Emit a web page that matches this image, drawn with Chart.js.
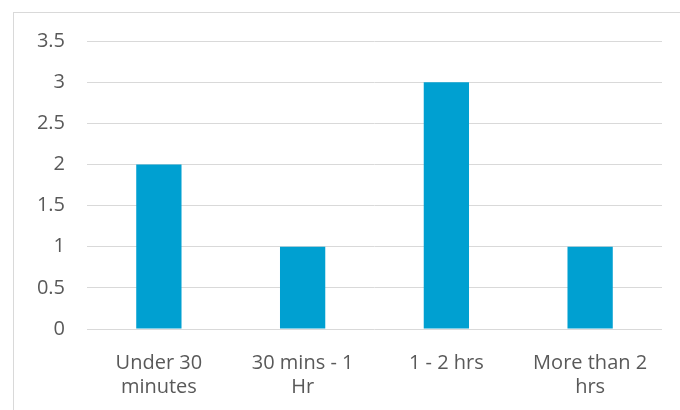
<!DOCTYPE html>
<html>
<head>
<meta charset="utf-8">
<script src="https://cdn.jsdelivr.net/npm/chart.js@4/dist/chart.umd.min.js"></script>
<style>
  html, body { margin: 0; padding: 0; background: #fff; overflow: hidden; }
  #frame { position: absolute; left: 13px; top: 12px; width: 700px; height: 420px; border: 1px solid #d9d9d9; }
  #wrap { position: absolute; left: 0; top: 0; width: 680px; height: 410px; }
</style>
</head>
<body>
<div id="frame"></div>
<div id="wrap"><canvas id="myChart" width="680" height="410"></canvas></div>
<script>
var categories = [['Under 30', 'minutes'], ['30 mins - 1', 'Hr'], '1 - 2 hrs', ['More than 2', 'hrs']]
var values = [2, 1, 3, 1]
var yTicks = [0, 0.5, 1, 1.5, 2, 2.5, 3, 3.5]

var fontFamily = "'Open Sans', sans-serif"

let ctx = document.getElementById('myChart').getContext('2d');
let chart = new Chart(ctx, {
    type: 'bar',
    data: {
        labels: categories,
        datasets: [{
            data: values,
            backgroundColor: '#00A0D1',
            barPercentage: 0.315,
            categoryPercentage: 1
        }]
    },
    options: {
        responsive: false,
        animation: false,
        layout: { padding: { top: 41, right: 18, left: 0, bottom: 0 } },
        plugins: { legend: { display: false }, tooltip: { enabled: false } },
        scales: {
            x: {
                grid: { display: false, drawTicks: false },
                border: { display: false },
                ticks: {
                    color: '#595959',
                    padding: 22,
                    maxRotation: 0,
                    font: { family: fontFamily, size: 20, lineHeight: 1.2 }
                },
                afterFit: function (scale) { scale.height = 81 }
            },
            y: {
                min: 0,
                max: 3.5,
                grid: { color: '#d9d9d9', lineWidth: 1, drawTicks: false },
                border: { display: false },
                afterBuildTicks: function (scale) {
                    scale.ticks = yTicks.map(function (v) { return { value: v } })
                },
                ticks: {
                    color: '#595959',
                    padding: 22,
                    font: { family: fontFamily, size: 20 },
                    callback: function (v) { return String(v) }
                },
                afterFit: function (scale) { scale.width = 87 }
            }
        }
    }
});
</script>
</body>
</html>
